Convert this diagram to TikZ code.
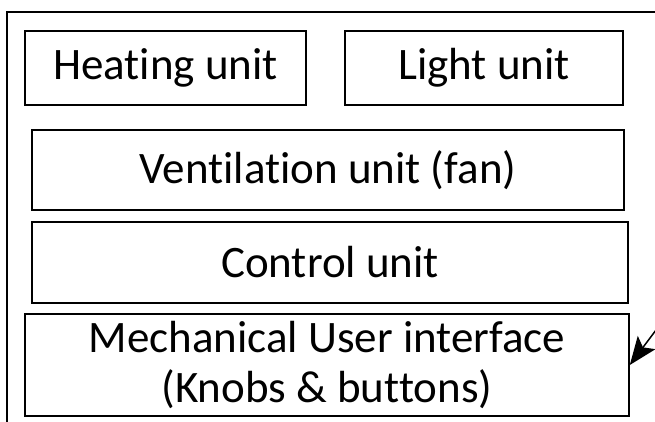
\documentclass[tikz,border=0pt]{standalone}
\usepackage{fontspec}
\setmainfont{Carlito}[Ligatures={NoCommon}]
\usetikzlibrary{arrows.meta}

\begin{document}
\begin{tikzpicture}[x=1pt,y=1pt,
		unit/.style={draw=black,line width=1.6pt,rectangle,inner sep=0pt,align=center,
			font=\fontsize{45}{50}\selectfont}]
			\clip (0,0) rectangle (655,422);
			
			% frame of the device
			\draw[line width=1.6pt] (7,-20) -- (7,410) -- (680,410);
			
			% units
			\node[unit,minimum width=281pt,minimum height=74pt] (heat) at (165.5,354) {Heating unit};
			\node[unit,minimum width=278pt,minimum height=74pt] (light) at (484,354) {Light unit};
			\node[unit,minimum width=592pt,minimum height=80pt] (vent) at (328,252) {Ventilation unit (fan)};
			\node[unit,minimum width=596pt,minimum height=81pt] (ctrl) at (330,159.5) {Control unit};
			\node[unit,minimum width=604pt,minimum height=102pt] (mech) at (327,57) {Mechanical User interface\\(Knobs \& buttons)};
			
			\coordinate (src) at (668,108);
			\draw[-{Stealth[length=28pt,width=22pt,inset=6pt]},line width=1.5pt] (src) -- (mech.east);
		\end{tikzpicture}
\end{document}
